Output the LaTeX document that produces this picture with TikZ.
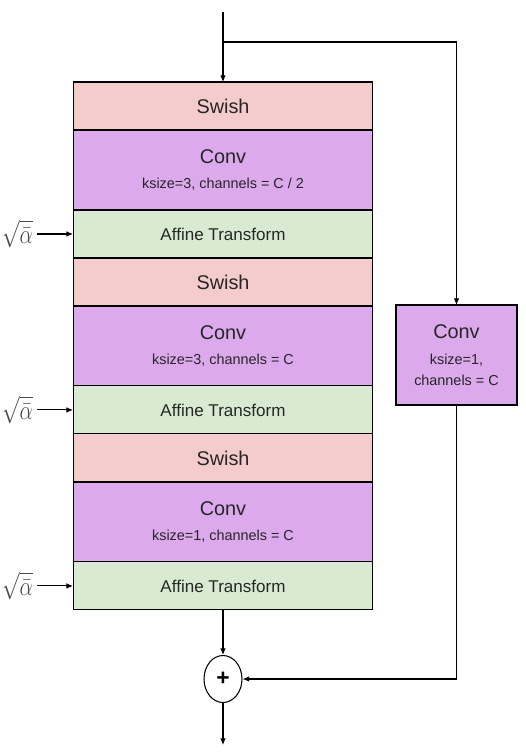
\documentclass[tikz,border=0pt]{standalone}
\usepackage{fontspec}
\setmainfont{Liberation Sans}
\usetikzlibrary{positioning,shapes.geometric,arrows.meta}

\definecolor{swishpink}{HTML}{F4CCCC}
\definecolor{convpurple}{HTML}{DCA9EC}
\definecolor{affinegreen}{HTML}{D9EAD3}
\newcommand{\convinfo}[1]{{\fontsize{8.2}{9}\selectfont #1}}
\newcommand{\sqrtalpha}{\scalebox{1}[1.3]{$\sqrt{\bar\alpha}$}}

\tikzset{
  layer/.style={draw, line width=0.6pt, minimum width=6cm, inner sep=0pt, outer sep=0pt,
    text=black!85, font=\fontsize{11.3}{11.5}\selectfont},
  swish/.style={layer, fill=swishpink, minimum height=0.96cm},
  conv/.style={layer, fill=convpurple, minimum height=1.6cm, align=center},
  affine/.style={layer, fill=affinegreen, minimum height=0.96cm, font=\fontsize{9.7}{11}\selectfont},
  alphain/.style={text=black!70, font=\fontsize{13}{15}\selectfont, inner sep=2pt},
}

\begin{document}
\begin{tikzpicture}[x=0.02cm, y=-0.02cm, line width=0.6pt, >={Latex[length=3.8pt,width=3.2pt]}]
    \useasboundingbox (0,0) rectangle (526,752);
    %block 1
    \node[swish] (s1) at (223,106) {Swish};
    \node[conv, below=0pt of s1] (c1) {Conv\\[2.5pt]\convinfo{ksize=3, channels = C / 2}};
    \node[affine, below=0pt of c1] (a1) {Affine Transform};
    %block 2
    \node[swish, below=0pt of a1] (s2) {Swish};
    \node[conv, below=0pt of s2] (c2) {Conv\\[2.5pt]\convinfo{ksize=3, channels = C}};
    \node[affine, below=0pt of c2] (a2) {Affine Transform};
    %block 3
    \node[swish, below=0pt of a2] (s3) {Swish};
    \node[conv, below=0pt of s3] (c3) {Conv\\[2.5pt]\convinfo{ksize=1, channels = C}};
    \node[affine, below=0pt of c3] (a3) {Affine Transform};
    \draw[line width=1.4pt] (s1.south west) -- (s1.south east);
    \draw[line width=1.4pt] (s2.south west) -- (s2.south east);
    \draw[line width=1.4pt] (s3.south west) -- (s3.south east);
    %shortcut
    \node[conv, minimum width=2.42cm, minimum height=2cm] (rc) at (456.5,355)
        {Conv\\[3.5pt]\convinfo{ksize=1,}\\\convinfo{channels = C}};
    %sum
    \node[draw, ellipse, minimum width=0.76cm, minimum height=0.94cm, inner sep=0pt,
        font=\bfseries\fontsize{13}{13}\selectfont] (sum) at (223,679) {+};
    \coordinate (in) at (223,12);
    \coordinate (split) at (223,42);
    \coordinate (out) at (223,745);
    \draw[->] (in) -- (s1);
    \draw[->] (split) -| (rc);
    \draw[->] (a3) -- (sum);
    \draw[->] (sum) -- (out);
    \draw[->] (rc) |- (sum);
    %alpha
    \node[alphain, left=0.72cm of a1] (al1) {\sqrtalpha};
    \node[alphain, left=0.72cm of a2] (al2) {\sqrtalpha};
    \node[alphain, left=0.72cm of a3] (al3) {\sqrtalpha};
    \draw[->] (al1) -- (a1);
    \draw[->] (al2) -- (a2);
    \draw[->] (al3) -- (a3);
\end{tikzpicture}
\end{document}
